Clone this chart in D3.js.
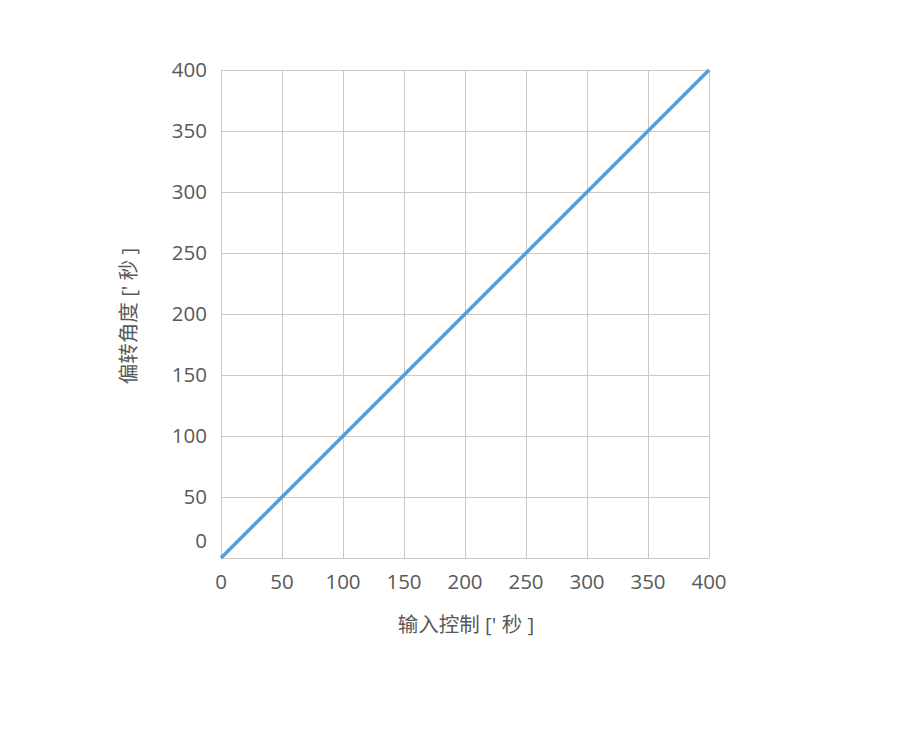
<!DOCTYPE html>
<html>
<head>
<meta charset="utf-8">
<script src="https://cdn.jsdelivr.net/npm/d3@7"></script>
<style>
  body { margin: 0; background: #fff; }
  svg text { font-family: "Open Sans", "Noto Sans", "Noto Sans CJK SC", sans-serif; fill: #595959; }
</style>
</head>
<body>
<svg class="chart" width="900" height="730"></svg>
<script>
var inputControl = [0, 50, 100, 150, 200, 250, 300, 350, 400]
var deflection = [0, 50, 100, 150, 200, 250, 300, 350, 400]
var xTicks = [0, 50, 100, 150, 200, 250, 300, 350, 400]
var yTicks = [0, 50, 100, 150, 200, 250, 300, 350, 400]
var xTitle = "输入控制 [' 秒 ]"
var yTitle = "偏转角度 [' 秒 ]"

var chart = d3.select(".chart"),
    margin = {top: 70, right: 191, bottom: 172, left: 221},
    width = 900 - margin.left - margin.right,
    height = 730 - margin.top - margin.bottom

var x = d3.scaleLinear().domain([0, 400]).range([0, width])
var y = d3.scaleLinear().domain([0, 400]).range([height, 0])

var g = chart.append("g")
  .attr("transform", "translate(" + margin.left + "," + margin.top + ")")

var gridColor = "#c9c9c9"

// grid
g.selectAll(".vgrid")
    .data(xTicks)
  .enter().append("line")
    .attr("x1", function(d) { return x(d) + 0.5 })
    .attr("x2", function(d) { return x(d) + 0.5 })
    .attr("y1", 0)
    .attr("y2", height)
    .attr("stroke", gridColor)
    .attr("stroke-width", 1)

g.selectAll(".hgrid")
    .data(yTicks)
  .enter().append("line")
    .attr("x1", 0)
    .attr("x2", width)
    .attr("y1", function(d) { return y(d) + 0.5 })
    .attr("y2", function(d) { return y(d) + 0.5 })
    .attr("stroke", gridColor)
    .attr("stroke-width", 1)

// tick labels
g.selectAll(".xlab")
    .data(xTicks)
  .enter().append("text")
    .attr("x", function(d) { return x(d) })
    .attr("y", height + 31)
    .attr("text-anchor", "middle")
    .style("font-size", "20.5px")
    .text(function(d) { return d })

g.selectAll(".ylab")
    .data(yTicks)
  .enter().append("text")
    .attr("x", -14)
    .attr("y", function(d) { return y(d) + (d === 0 ? -10 : 7) })
    .attr("text-anchor", "end")
    .style("font-size", "20.5px")
    .text(function(d) { return d })

// line
var line = d3.line()
  .x(function(d, i) { return x(d) })
  .y(function(d, i) { return y(deflection[i]) })

g.append("path")
  .datum(inputControl)
  .attr("d", line)
  .attr("fill", "none")
  .attr("stroke", "#5b9bd5")
  .attr("stroke-width", 3.5)

// titles
g.append("text")
  .attr("x", width / 2 + 1)
  .attr("y", height + 74)
  .attr("text-anchor", "middle")
  .style("font-size", "20.5px")
  .text(xTitle)

g.append("text")
  .attr("transform", "translate(-85," + (height / 2 + 2) + ") rotate(-90)")
  .attr("text-anchor", "middle")
  .style("font-size", "20.5px")
  .text(yTitle)
</script>
</body>
</html>
